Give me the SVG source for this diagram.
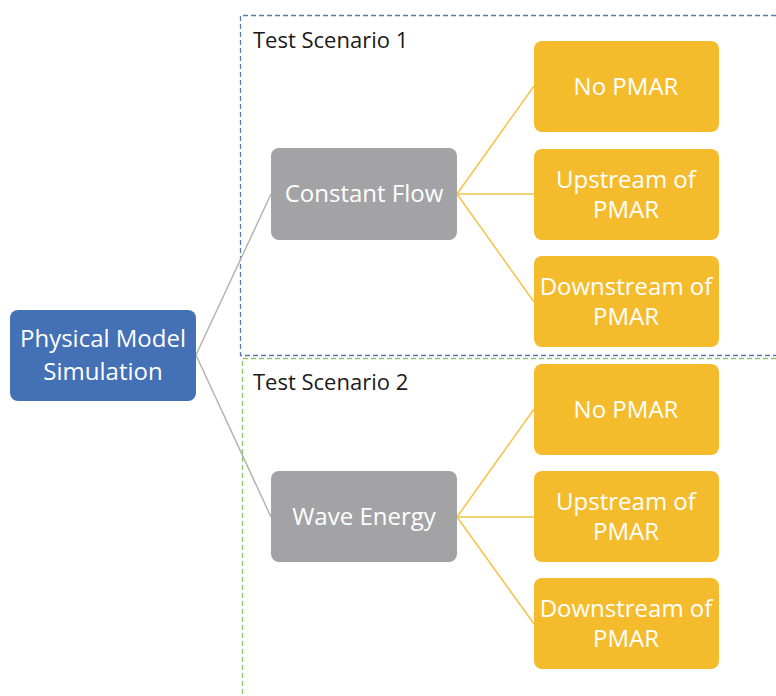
<svg xmlns="http://www.w3.org/2000/svg" width="776" height="696" viewBox="0 0 776 696">
<style>
.t{font-family:"Open Sans","Noto Sans","Liberation Sans",sans-serif;font-size:24px;fill:#ffffff;text-anchor:middle}
.lbl{font-family:"Open Sans","Noto Sans","Liberation Sans",sans-serif;font-size:22px;fill:#1a1a1a}
.y{fill:#f4bc2c}
.g{fill:#a3a3a6}
.b{fill:#4470b6}
.cg{stroke:#b4b4b4;stroke-width:1.5;fill:none}
.cy{stroke:#f4c44a;stroke-width:1.5;fill:none}
</style>
<rect width="776" height="696" fill="#ffffff"/>
<g id="scenario1">
<path d="M776 15.5 H240.5 V355.5 H776" fill="none" stroke="#5a79ad" stroke-width="1.3" stroke-dasharray="5,3"/>
<text class="lbl" x="253" y="48">Test Scenario 1</text>
</g>
<g id="scenario2">
<path d="M776 358.5 H242.5 V696" fill="none" stroke="#8fc36a" stroke-width="1.3" stroke-dasharray="5,3"/>
<text class="lbl" x="253" y="390">Test Scenario 2</text>
</g>
<g id="connectors">
<path class="cg" d="M196 355 L271 194 M196 355 L271 517"/>
<path class="cy" d="M457 194 L534 86 M457 194 L534 194 M457 194 L534 302"/>
<path class="cy" d="M457 517 L534 409 M457 517 L534 517 M457 517 L534 624"/>
</g>
<g id="physical">
<rect class="b" x="10" y="310" width="186" height="91" rx="8"/>
<text class="t" x="103" y="347">Physical Model</text>
<text class="t" x="103" y="380">Simulation</text>
</g>
<g id="constant">
<rect class="g" x="271" y="148" width="186" height="92" rx="8"/>
<text class="t" x="364" y="202">Constant Flow</text>
</g>
<g id="wave">
<rect class="g" x="271" y="471" width="186" height="91" rx="8"/>
<text class="t" x="364" y="525">Wave Energy</text>
</g>
<g id="nopmar1">
<rect class="y" x="534" y="41" width="185" height="91" rx="8"/>
<text class="t" x="626" y="95">No PMAR</text>
</g>
<g id="up1">
<rect class="y" x="534" y="149" width="185" height="91" rx="8"/>
<text class="t" x="626" y="188">Upstream of</text>
<text class="t" x="626" y="218">PMAR</text>
</g>
<g id="down1">
<rect class="y" x="534" y="256" width="185" height="91" rx="8"/>
<text class="t" x="626" y="295">Downstream of</text>
<text class="t" x="626" y="325">PMAR</text>
</g>
<g id="nopmar2">
<rect class="y" x="534" y="364" width="185" height="91" rx="8"/>
<text class="t" x="626" y="418">No PMAR</text>
</g>
<g id="up2">
<rect class="y" x="534" y="471" width="185" height="91" rx="8"/>
<text class="t" x="626" y="510">Upstream of</text>
<text class="t" x="626" y="540">PMAR</text>
</g>
<g id="down2">
<rect class="y" x="534" y="578" width="185" height="91" rx="8"/>
<text class="t" x="626" y="617">Downstream of</text>
<text class="t" x="626" y="647">PMAR</text>
</g>
</svg>
